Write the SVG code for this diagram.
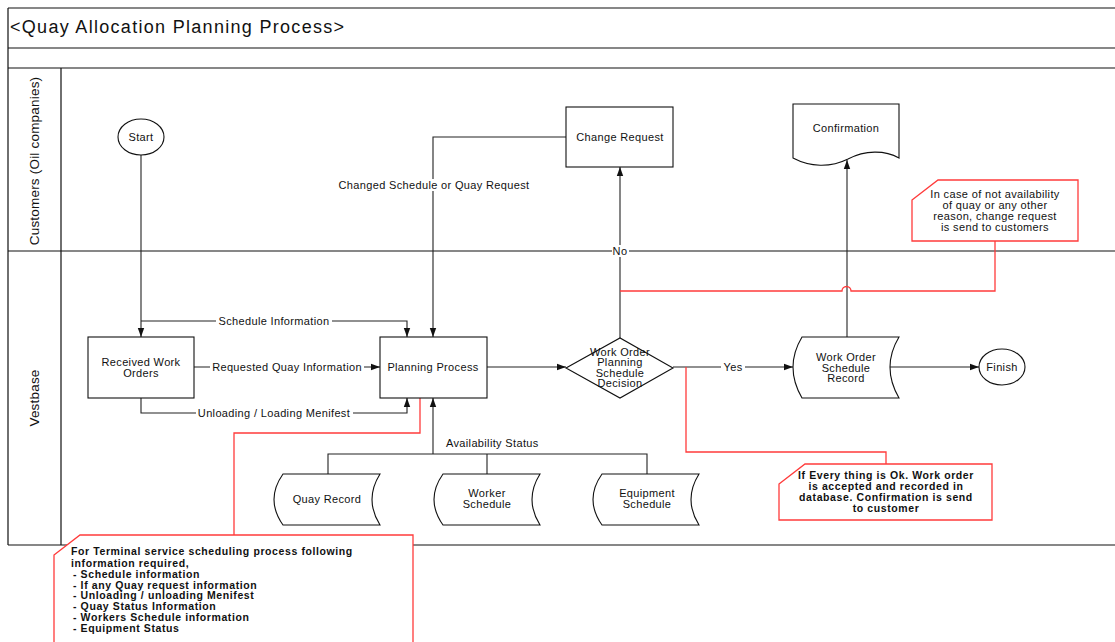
<svg xmlns="http://www.w3.org/2000/svg" width="1115" height="642" viewBox="0 0 1115 642">
<defs>
<style>
.frame{fill:none;stroke:#111;stroke-width:1.2}
.shape{fill:#fff;stroke:#111;stroke-width:1.1}
.conn{fill:none;stroke:#222;stroke-width:1.1}
.red{fill:none;stroke:#ff3b3b;stroke-width:1.3}
.note{fill:#fff;stroke:#ff3b3b;stroke-width:1.3}
.t{font-family:"Liberation Sans",Arial,sans-serif;font-size:11px;letter-spacing:0.35px;fill:#111;text-anchor:middle}
.tl{text-anchor:start}
.b{font-family:"Liberation Sans",Arial,sans-serif;font-size:10.5px;font-weight:bold;letter-spacing:0.6px;fill:#111}
.lane{font-family:"Liberation Sans",Arial,sans-serif;font-size:13.5px;letter-spacing:0.2px;fill:#111;text-anchor:middle}
.bg{fill:#fff}
</style>
<marker id="arr" markerWidth="9" markerHeight="8" refX="9" refY="4" orient="auto" markerUnits="userSpaceOnUse">
<path d="M0,0.8 L9,4 L0,7.2 Z" fill="#111"/>
</marker>
</defs>
<rect x="0" y="0" width="1115" height="642" fill="#fff"/>

<g id="pool">
<path class="frame" d="M8,8 H1120 M8,48 H1120 M8,68 H1120 M8,251 H1120 M8,545 H1120 M8,8 V545 M61,68 V545"/>
<text x="10" y="33" style="font-family:'Liberation Sans',Arial,sans-serif;font-size:18px;letter-spacing:1.3px;fill:#111">&lt;Quay Allocation Planning Process&gt;</text>
<text class="lane" transform="translate(39,161) rotate(-90)">Customers (Oil companies)</text>
<text class="lane" transform="translate(39,398) rotate(-90)">Vestbase</text>
</g>

<g id="connectors">
<path class="conn" d="M141,155 V337" marker-end="url(#arr)"/>
<path class="conn" d="M141,321 H407 V337" marker-end="url(#arr)"/>
<path class="conn" d="M194,367 H380" marker-end="url(#arr)"/>
<path class="conn" d="M141,398 V413 H407 V398" marker-end="url(#arr)"/>
<path class="conn" d="M566,137 H433 V337" marker-end="url(#arr)"/>
<path class="conn" d="M487,367 H566" marker-end="url(#arr)"/>
<path class="conn" d="M620,338 V167" marker-end="url(#arr)"/>
<path class="conn" d="M673,367 H793" marker-end="url(#arr)"/>
<path class="conn" d="M847,337 V160" marker-end="url(#arr)"/>
<path class="conn" d="M890,367 H979" marker-end="url(#arr)"/>
<path class="conn" d="M433,454 V398" marker-end="url(#arr)"/>
<path class="conn" d="M328,474 V454 H647 V474 M487,454 V474"/>
<rect class="bg" x="216" y="315" width="116" height="12"/>
<text class="t" x="274" y="325">Schedule Information</text>
<rect class="bg" x="210" y="361" width="154" height="12"/>
<text class="t" x="287" y="371">Requested Quay Information</text>
<rect class="bg" x="196" y="407" width="157" height="12"/>
<text class="t" x="274" y="417">Unloading / Loading Menifest</text>
<rect class="bg" x="336" y="179" width="196" height="12"/>
<text class="t" x="434" y="189">Changed Schedule or Quay Request</text>
<rect class="bg" x="612" y="245" width="17" height="12"/>
<text class="t" x="620" y="255">No</text>
<rect class="bg" x="721" y="361" width="24" height="12"/>
<text class="t" x="733" y="371">Yes</text>
<text class="t tl" x="446" y="447">Availability Status</text>
<path class="red" d="M620,291 H842 A4.5,4.5 0 0 1 851,291 H995 V241"/>
<path class="red" d="M686,367 V452 H886 V464"/>
<path class="red" d="M420,398 V433 H234 V535"/>
</g>

<g id="start">
<ellipse class="shape" cx="141" cy="137" rx="23" ry="18"/>
<text class="t" x="141" y="141">Start</text>
</g>

<g id="received-work-orders">
<rect class="shape" x="88" y="337" width="106" height="61"/>
<text class="t" x="141" y="366">Received Work</text>
<text class="t" x="141" y="377">Orders</text>
</g>

<g id="planning-process">
<rect class="shape" x="380" y="337" width="107" height="61"/>
<text class="t" x="433" y="371">Planning Process</text>
</g>

<g id="change-request">
<rect class="shape" x="566" y="107" width="107" height="60"/>
<text class="t" x="620" y="141">Change Request</text>
</g>

<g id="decision">
<path class="shape" d="M566,368 L620,338 L673,368 L620,398 Z"/>
<text class="t" x="620" y="356">Work Order</text>
<text class="t" x="620" y="366">Planning</text>
<text class="t" x="620" y="377">Schedule</text>
<text class="t" x="620" y="387">Decision</text>
</g>

<g id="confirmation">
<path class="shape" d="M793,104 H899 V158 C885,150 865,150 848,159 C830,168 810,167 793,158 Z"/>
<text class="t" x="846" y="132">Confirmation</text>
</g>

<g id="work-order-schedule-record">
<path class="shape" d="M802,337 H899 Q881,367 899,398 H802 Q784,367 802,337 Z"/>
<text class="t" x="846" y="361">Work Order</text>
<text class="t" x="846" y="372">Schedule</text>
<text class="t" x="846" y="382">Record</text>
</g>

<g id="finish">
<ellipse class="shape" cx="1002" cy="367" rx="23" ry="18"/>
<text class="t" x="1002" y="371">Finish</text>
</g>

<g id="quay-record">
<path class="shape" d="M283,474 H380 Q364,499.5 380,525 H283 Q265,499.5 283,474 Z"/>
<text class="t" x="327" y="503">Quay Record</text>
</g>

<g id="worker-schedule">
<path class="shape" d="M443,474 H540 Q524,499.5 540,525 H443 Q425,499.5 443,474 Z"/>
<text class="t" x="487" y="497">Worker</text>
<text class="t" x="487" y="508">Schedule</text>
</g>

<g id="equipment-schedule">
<path class="shape" d="M602,474 H699 Q683,499.5 699,525 H602 Q584,499.5 602,474 Z"/>
<text class="t" x="647" y="497">Equipment</text>
<text class="t" x="647" y="508">Schedule</text>
</g>

<g id="note-change">
<path class="note" d="M912,200 L938,180 H1078 V241 H912 Z"/>
<text class="t" x="995" y="198">In case of not availability</text>
<text class="t" x="995" y="209">of quay or any other</text>
<text class="t" x="995" y="220">reason, change request</text>
<text class="t" x="995" y="231">is send to customers</text>
</g>

<g id="note-ok">
<path class="note" d="M779,484 L805,464 H992 V520 H779 Z"/>
<text class="b" text-anchor="middle" x="886" y="479">If Every thing is Ok. Work order</text>
<text class="b" text-anchor="middle" x="886" y="490">is accepted and recorded in</text>
<text class="b" text-anchor="middle" x="886" y="501">database. Confirmation is send</text>
<text class="b" text-anchor="middle" x="886" y="512">to customer</text>
</g>

<g id="note-terminal">
<path class="note" d="M54,555 L80,535 H413 V650 H54 Z"/>
<text class="b" x="71" y="555">For Terminal service scheduling process following</text>
<text class="b" x="71" y="567">information required,</text>
<text class="b" x="73" y="578">- Schedule information</text>
<text class="b" x="73" y="589">- If any Quay request information</text>
<text class="b" x="73" y="599">- Unloading / unloading Menifest</text>
<text class="b" x="73" y="610">- Quay Status Information</text>
<text class="b" x="73" y="621">- Workers Schedule information</text>
<text class="b" x="73" y="632">- Equipment Status</text>
</g>
</svg>
